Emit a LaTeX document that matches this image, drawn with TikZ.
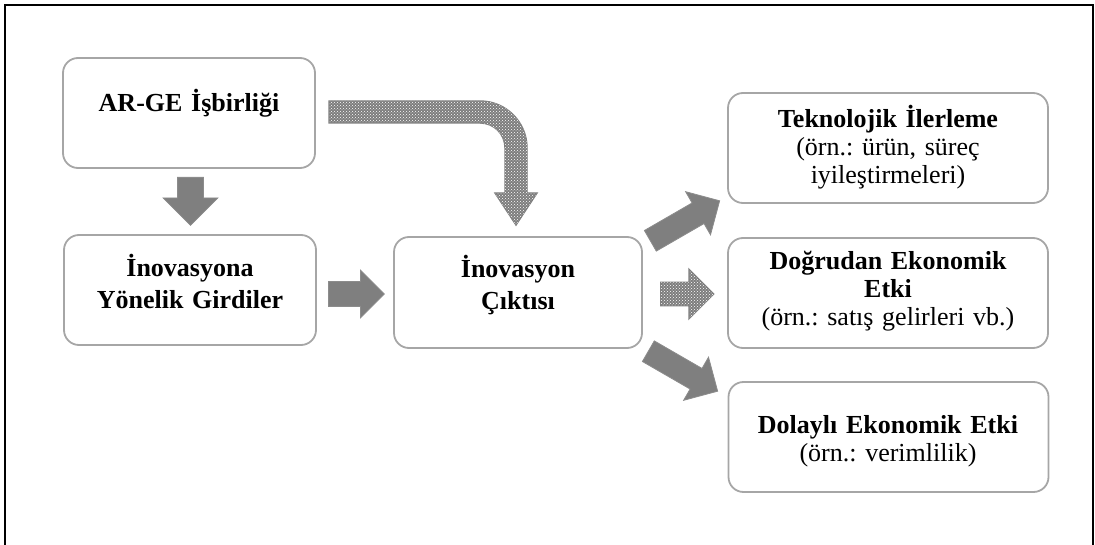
\documentclass[tikz,border=0pt]{standalone}
\usepackage{fontspec}
\setmainfont{Liberation Serif}
\usetikzlibrary{shapes.arrows,patterns}
\frenchspacing

\definecolor{boxgray}{RGB}{166,166,166}
\definecolor{arrowfill}{RGB}{127,127,127}
\definecolor{arrowedge}{RGB}{140,140,140}
\definecolor{dotfill}{RGB}{125,125,125}

\tikzset{
  stagebox/.style={draw=boxgray, line width=1.8pt, rounded corners=15pt,
    fill=white, inner sep=0pt},
  boxtext/.style={anchor=base, align=center, inner sep=0pt,
    font=\fontsize{26}{32}\selectfont\bfseries},
  sidetext/.style={anchor=base, align=center, inner sep=0pt, text width=315pt,
    font=\fontsize{26}{28}\selectfont\bfseries},
  solidarrow/.style={single arrow, fill=arrowfill, draw=arrowedge,
    line width=0.8pt, single arrow tip angle=90},
  dotarrow/.style={fill=dotfill, draw=arrowfill, line width=1.4pt,
    postaction={pattern=crosshatch dots, pattern color=white}},
  dotblock/.style={single arrow, single arrow tip angle=90, dotarrow},
}

\begin{document}
\begin{tikzpicture}[x=1pt, y=-1pt]
\useasboundingbox (0,0) rectangle (1095,545);

% page frame, open at the bottom
\draw[line width=1.8pt] (5,545) -- (5,5) -- (1093,5) -- (1093,545);

% boxes
\node[stagebox, minimum width=252pt, minimum height=110pt] (b1) at (189,113) {};
\node[stagebox, minimum width=252pt, minimum height=110pt] (b2) at (190,290) {};
\node[stagebox, minimum width=248pt, minimum height=111pt] (b3) at (518,292.5) {};
\node[stagebox, minimum width=320pt, minimum height=110pt] (bA) at (888,148) {};
\node[stagebox, minimum width=320pt, minimum height=110pt] (bB) at (888,293) {};
\node[stagebox, minimum width=320pt, minimum height=110pt] (bC) at (888.5,437) {};

% box texts
\node[boxtext, text width=240pt] (t1) at (189,112) {AR-GE İşbirliği};
\node[boxtext, text width=240pt] (t2) at (190,277) {İnovasyona\\Yönelik Girdiler};
\node[boxtext, text width=236pt] (t3) at (518,278) {İnovasyon\\Çıktısı};
\node[sidetext] (tA) at (888,128) {Teknolojik İlerleme\\\mdseries(örn.: ürün, süreç\\iyileştirmeleri)};
\node[sidetext] (tB) at (888,270) {Doğrudan Ekonomik\\Etki\\\mdseries(örn.: satış gelirleri vb.)};
\node[sidetext] (tC) at (888,433) {Dolaylı Ekonomik Etki\\\mdseries(örn.: verimlilik)};

% straight block arrows
\node[solidarrow, inner sep=12.5pt, single arrow head extend=14.5pt,
  minimum height=48pt, rotate=-90, anchor=tail] (a12) at (190.5,177) {};
\node[solidarrow, inner sep=12pt, single arrow head extend=11.5pt,
  minimum height=56pt, anchor=tail] (a23) at (328,294) {};
\node[solidarrow, inner sep=11.5pt, single arrow head extend=13pt,
  minimum height=80pt, rotate=30, anchor=tail] (a3A) at (650,241) {};
\node[solidarrow, inner sep=11.5pt, single arrow head extend=13pt,
  minimum height=80pt, rotate=-30, anchor=tail] (a3C) at (648,351) {};
\node[dotblock, inner sep=11pt, single arrow head extend=13pt,
  minimum height=53pt, anchor=tail] (a3B) at (660,294) {};

% bent block arrow from the first box down into the output box
\path[dotarrow] (329,101) -- (480,101)
  .. controls (506,101) and (527,122) .. (527,148)
  -- (527,193) -- (537,193) -- (516,225) -- (495,193) -- (505,193)
  -- (505,148) .. controls (505,134) and (494,123) .. (480,123)
  -- (329,123) -- cycle;
\end{tikzpicture}
\end{document}
